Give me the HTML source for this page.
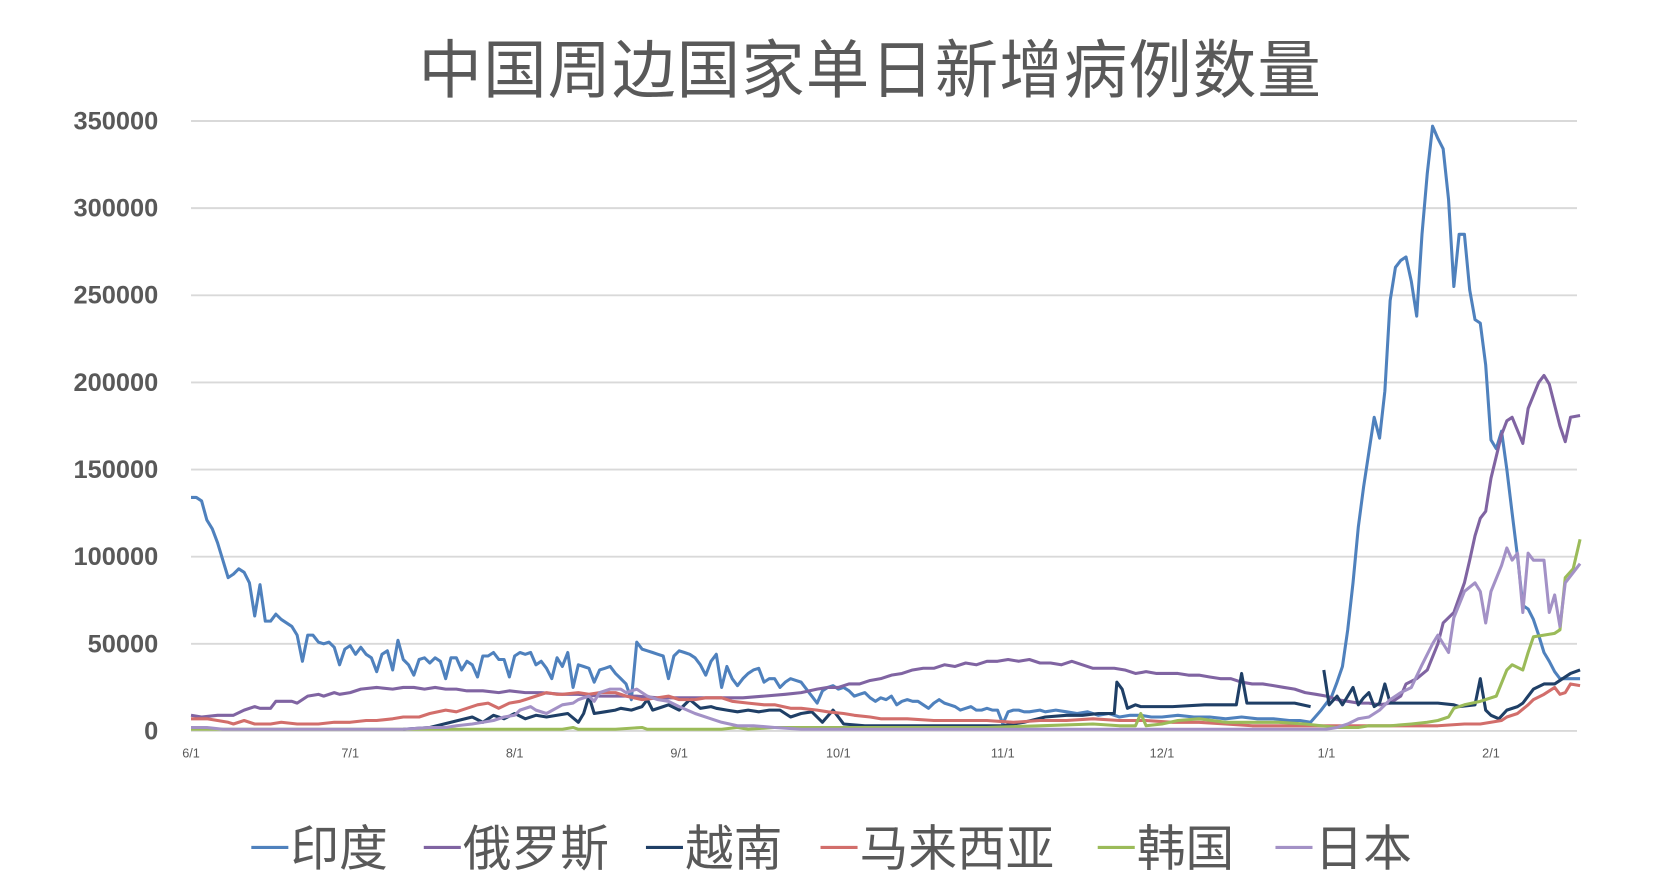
<!DOCTYPE html>
<html><head><meta charset="utf-8"><style>
html,body{margin:0;padding:0;background:#fff;}
svg{display:block;}
text{font-family:"Liberation Sans","Noto Sans CJK SC",sans-serif;fill:#595959;}
</style></head><body>
<svg id="s" width="1656" height="894" viewBox="0 0 1656 894" xmlns="http://www.w3.org/2000/svg">
<g transform="translate(-2.6,-0.8) scale(1.058,1.059)">
<g id="grid" stroke="#d9d9d9" stroke-width="1.8"></g>
<g id="yl" font-weight="bold" font-size="24" text-anchor="end"></g>
<g id="xl" font-size="12" text-anchor="middle"></g>
<g id="lines" fill="none" stroke-width="2.9" stroke-linejoin="round"></g>
<text x="825" y="88" font-size="60" text-anchor="middle" letter-spacing="1" font-family="'Noto Serif CJK SC','Noto Sans CJK SC',serif">中国周边国家单日新增病例数量</text>
<g id="leg" font-size="46"></g>
</g>
</svg>
<script>
var NS="http://www.w3.org/2000/svg";
function el(p,t,a,txt){var e=document.createElementNS(NS,t);for(var k in a)e.setAttribute(k,a[k]);if(txt)e.textContent=txt;document.getElementById(p).appendChild(e);return e;}
function Y(v){return 691-v*576/350;}
function X(d){return 183+5.015*d;}
for(var i=0;i<=7;i++){var y=Y(i*50);el('grid','line',{x1:183,x2:1493,y1:y,y2:y});el('yl','text',{x:152,y:y+8},i==0?'0':String(i*50000));}
var xl=[['6/1',0],['7/1',30],['8/1',61],['9/1',92],['10/1',122],['11/1',153],['12/1',183],['1/1',214],['2/1',245]];
xl.forEach(function(a){el('xl','text',{x:X(a[1]),y:716},a[0]);});
function flat(a){var r=[];for(var i=0;i<a.length;i+=2)r.push([a[i],a[i+1]]);return r;}
var india=flat([0,134,1,134,2,132,3,121,4,116,5,108,6,98,7,88,8,90,9,93,10,91,11,85,12,66,13,84,14,63,15,63,16,67,17,64,18,62,19,60,20,55,21,40,22,55,23,55,24,51,25,50,26,51,27,48,28,38,29,47,30,49,31,44,32,48,33,44,34,42,35,34,36,44,37,46,38,35,39,52,40,41,41,38,42,32,43,41,44,42,45,39,46,42,47,40,48,30,49,42,50,42,51,35,52,40,53,38,54,31,55,43,56,43,57,45,58,41,59,41,60,31,61,43,62,45,63,44,64,45,65,38,66,40,67,36,68,30,69,42,70,37,71,45,72,25,73,38,74,37,75,36,76,28,77,35,78,36,79,37,80,33,81,30,82,27,83,18,84,51,85,47,86,46,87,45,88,44,89,43,90,30,91,43,92,46,93,45,94,44,95,42,96,38,97,32,98,40,99,44,100,25,101,37,102,30,103,26,104,30,105,33,106,35,107,36,108,28,109,30,110,30,111,25,112,28,113,30,114,29,115,28,116,24,117,20,118,16,119,23,120,25,121,26,122,24,123,25,124,23,125,20,126,21,127,22,128,19,129,17,130,19,131,18,132,20,133,15,134,17,135,18,136,17,137,17,138,15,139,13,140,16,141,18,142,16,143,15,144,14,145,12,146,13,147,14,148,12,149,12,150,13,151,12,152,12,153,4,154,11,155,12,156,12,157,11,158,11,160,12,161,11,163,12,165,11,167,10,169,11,171,9,173,10,175,8,177,9,179,9,181,8,183,8,186,9,189,8,192,8,195,7,198,8,201,7,204,7,207,6,209,6,211,5,213,12,215,20,216,28,217,37,218,58,219,85,220,117,221,140,222,160,223,180,224,168,225,195,226,247,227,266,228,270,229,272,230,258,231,238,232,285,233,320,234,347,235,340,236,334,237,305,238,255,239,285,240,285,241,253,242,236,243,234,244,210,245,167,246,162,247,172,248,150,249,125,250,100,251,72,252,70,253,64,254,55,255,45,256,40,257,34,258,30,260,30,261.8,30]);
var russia=flat([0,9,2,8,5,9,8,9,10,12,12,14,13,13,15,13,16,17,19,17,20,16,22,20,24,21,25,20,27,22,28,21,30,22,32,24,35,25,38,24,40,25,42,25,44,24,46,25,48,24,50,24,52,23,55,23,58,22,60,23,63,22,66,22,70,21,73,21,77,20,80,20,84,20,88,19,92,19,96,19,100,19,104,19,108,20,112,21,115,22,118,24,120,25,122,25,124,27,126,27,128,29,130,30,132,32,134,33,136,35,138,36,140,36,142,38,144,37,146,39,148,38,150,40,152,40,154,41,156,40,158,41,160,39,162,39,164,38,166,40,168,38,170,36,172,36,174,36,176,35,178,33,180,34,182,33,184,33,186,33,188,32,190,32,192,31,194,30,196,30,198,28,200,27,202,27,204,26,206,25,208,24,210,22,212,21,214,20,216,18,218,17,220,16,222,16,224,15,226,16,228,20,229,27,231,30,233,35,235,50,236,62,238,68,240,85,241,98,242,112,243,122,244,126,245,145,247,170,248,178,249,180,251,165,252,185,254,200,255,204,256,199,258,175,259,166,260,180,261.8,181]);
var vn1=flat([40,1,45,2,49,5,53,8,55,5,57,9,59,7,61,10,63,7,65,9,67,8,69,9,71,10,73,5,74,10,75,20,76,10,78,11,80,12,81,13,83,12,85,14,86,18,87,12,89,14,90,15,92,12,94,18,96,13,98,14,99,13,101,12,103,11,105,12,107,11,109,12,111,12,113,8,115,10,117,11,119,5,121,12,122,8,123,4,127,3,133,3,140,3,147,3,153,3,157,5,161,8,165,9,168,9,171,10,174,10,174.5,28,175.5,24,176.5,13,178,15,179,14,185,14,191,15,194,15,197,15,198,33,199,16,201,16,205,16,208,16,211,14]);
var vn2=flat([213.5,35,214.5,15,216,20,217,15,218,20,219,25,220,15,221,19,222,22,223,14,224,16,225,27,226,16,230,16,235,16,238,15,239,14,242,15,243,30,244,12,245,9,246.5,7,248,12,250,14,251,16,253,24,255,27,257,27,258,29,260,33,261.8,35]);
var mal=flat([0,7,3,7,5,6,7,5,8,4,10,6,12,4,15,4,17,5,20,4,24,4,27,5,30,5,33,6,35,6,38,7,40,8,43,8,45,10,48,12,50,11,52,13,54,15,56,16,58,13,60,16,62,17,63,18,65,20,67,22,69,21,70,21,73,22,75,21,77,22,80,22,82,20,85,18,88,19,90,20,92,18,95,18,97,19,100,19,102,17,105,16,108,15,110,15,113,13,115,13,118,12,120,11,123,10,125,9,128,8,130,7,135,7,140,6,145,6,150,6,155,5,160,6,165,6,170,7,175,6,180,6,185,5,190,5,195,4,200,3,205,3,210,3,215,3,220,3,225,3,230,3,235,3,240,4,243,4,245,5,247,6,248,8,250,10,252,15,253,18,255,21,257,25,258,21,259,22,260,27,261.8,26]);
var kor=flat([0,1,20,1,40,1,60,1,70,1,72,2,73,1,80,1,85,2,86,1,95,1,100,1,103,2,105,1,110,2,120,2,130,2,140,2,150,2,160,3,170,4,175,3,178,3,179,10,180,3,183,4,186,6,190,7,195,5,200,5,205,5,210,4,213,3,216,2,220,2,222,3,226,3,230,4,233,5,235,6,237,8,238,13,240,15,243,17,246,20,248,35,249,38,251,35,252,45,253,54,255,55,257,56,258,58,259,88,260.5,93,261.8,110]);
var jp=flat([0,2,3,2,6,1,10,1,20,1,30,1,40,1,45,2,48,2,50,3,53,4,55,5,57,6,59,8,61,9,62,12,64,14,65,12,67,10,70,15,72,16,73,18,75,20,76,17,77,22,79,24,81,24,82,22,84,24,86,20,88,18,90,17,92,14,95,10,98,7,100,5,103,3,106,3,110,2,115,1,130,1,150,1,170,1,190,1,200,1,210,1,214,1,216,2,218,4,220,7,222,8,224,12,226,18,228,22,230,25,232,38,234,50,235,55,237,45,238,65,240,80,242,85,243,80,244,62,245,80,247,95,248,105,249,98,250,102,251,68,252,102,253,98,255,98,256,68,257,78,258,60,259,85,261.8,96]);
function draw(data,c){var p=data.map(function(a){return X(a[0]).toFixed(1)+','+Y(a[1]).toFixed(1);}).join(' ');el('lines','polyline',{points:p,stroke:c});}
draw(india,'#4f81bd');draw(russia,'#8064a2');draw(vn1,'#1f3f66');draw(vn2,'#1f3f66');draw(mal,'#d26e6b');draw(kor,'#9bbb59');draw(jp,'#a391c6');
var leg=[['印度',240,'#4f81bd'],['俄罗斯',403,'#8064a2'],['越南',613,'#1f3f66'],['马来西亚',778,'#d26e6b'],['韩国',1040,'#9bbb59'],['日本',1208,'#a391c6']];
leg.forEach(function(a){el('leg','line',{x1:a[1],x2:a[1]+35,y1:801,y2:801,stroke:a[2],'stroke-width':3});el('leg','text',{x:a[1]+37,y:818,'font-family':"'Noto Serif CJK SC','Noto Sans CJK SC',serif"},a[0]);});
</script>
</body></html>
